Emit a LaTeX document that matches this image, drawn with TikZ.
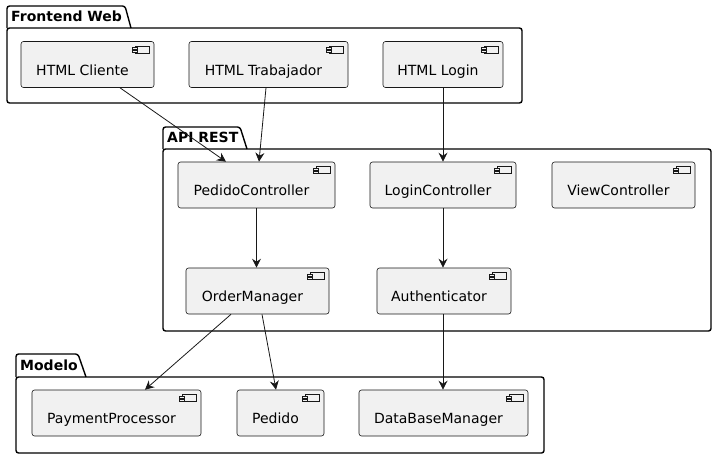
\documentclass[tikz,border=0pt]{standalone}
\usepackage{fontspec}
\setmainfont{DejaVu Sans}
\usetikzlibrary{arrows.meta}
\definecolor{compfill}{HTML}{F1F1F1}
\definecolor{umlline}{HTML}{181818}
\tikzset{comp/.style={draw=umlline, fill=compfill, rounded corners=2.5pt, line width=0.6pt, minimum height=46pt, text height=21pt, text depth=0pt, inner sep=0pt, font=\fontsize{14}{16}\selectfont, execute at end node=\kern10pt},
pkg/.style={draw=black, line width=1.4pt, rounded corners=2.5pt},
pkgtitle/.style={anchor=base west, inner sep=0pt, font=\bfseries\fontsize{14}{16}\selectfont},
dep/.style={draw=umlline, line width=0.8pt, -{Stealth[length=9pt,width=9pt,inset=3pt]}}}

\begin{document}
\begin{tikzpicture}[x=1pt,y=-1pt]
\useasboundingbox (0,0) rectangle (717,458);
\draw[pkg] (7,28)--(7,6)--(125,6)--(131,28);
\draw[pkg] (7,28) rectangle (522,103);
\node[pkgtitle] (tfront) at (11,21) {Frontend Web};
\draw[pkg] (163,149)--(163,127)--(240,127)--(247,149);
\draw[pkg] (163,149) rectangle (711,331);
\node[pkgtitle] (tapi) at (167,142) {API REST};
\draw[pkg] (16,377)--(16,354)--(78,354)--(86,377);
\draw[pkg] (16,377) rectangle (544,453);
\node[pkgtitle] (tmod) at (20,370) {Modelo};

\node[comp, minimum width=133pt] (clie) at (87.5,64.5) {HTML Cliente};
\node[comp, minimum width=159pt] (trab) at (268.5,64.5) {HTML Trabajador};
\node[comp, minimum width=120pt] (login) at (443,64.5) {HTML Login};
\node[comp, minimum width=157pt] (pedc) at (256.5,185) {PedidoController};
\node[comp, minimum width=146pt] (logc) at (443,185) {LoginController};
\node[comp, minimum width=143pt] (viewc) at (623.5,185) {ViewController};
\node[comp, minimum width=143pt] (orderm) at (257.5,291) {OrderManager};
\node[comp, minimum width=134pt] (auth) at (444,291) {Authenticator};
\node[comp, minimum width=169pt] (paym) at (116.5,413) {PaymentProcessor};
\node[comp, minimum width=87pt] (pedido) at (280.5,413) {Pedido};
\node[comp, minimum width=169pt] (dbm) at (443.5,413) {DataBaseManager};

\foreach \n in {clie,trab,login,pedc,logc,viewc,orderm,auth,paym,pedido,dbm}{
\draw[umlline, line width=0.5pt, fill=compfill] ([xshift=-19pt,yshift=-5pt]\n.north east) rectangle ++(14pt,-7pt);
\draw[umlline, line width=0.5pt, fill=compfill] ([xshift=-22pt,yshift=-6.5pt]\n.north east) rectangle ++(5pt,-2pt);
\draw[umlline, line width=0.5pt, fill=compfill] ([xshift=-22pt,yshift=-9.5pt]\n.north east) rectangle ++(5pt,-2pt);
}

\draw[dep] ([xshift=32.5pt]clie.south) -- ([xshift=-30.5pt]pedc.north);
\draw[dep] ([xshift=-2.5pt]trab.south) -- ([xshift=2.5pt]pedc.north);
\draw[dep] (login.south) -- (logc.north);
\draw[dep] (pedc.south) -- (pedc.south |- orderm.north);
\draw[dep] (logc.south) -- (logc.south |- auth.north);
\draw[dep] ([xshift=-26.5pt]orderm.south) -- ([xshift=28.5pt]paym.north);
\draw[dep] ([xshift=4.5pt]orderm.south) -- ([xshift=-4.5pt]pedido.north);
\draw[dep] ([xshift=-1pt]auth.south) -- ([xshift=-1pt]auth.south |- dbm.north);
\end{tikzpicture}
\end{document}
